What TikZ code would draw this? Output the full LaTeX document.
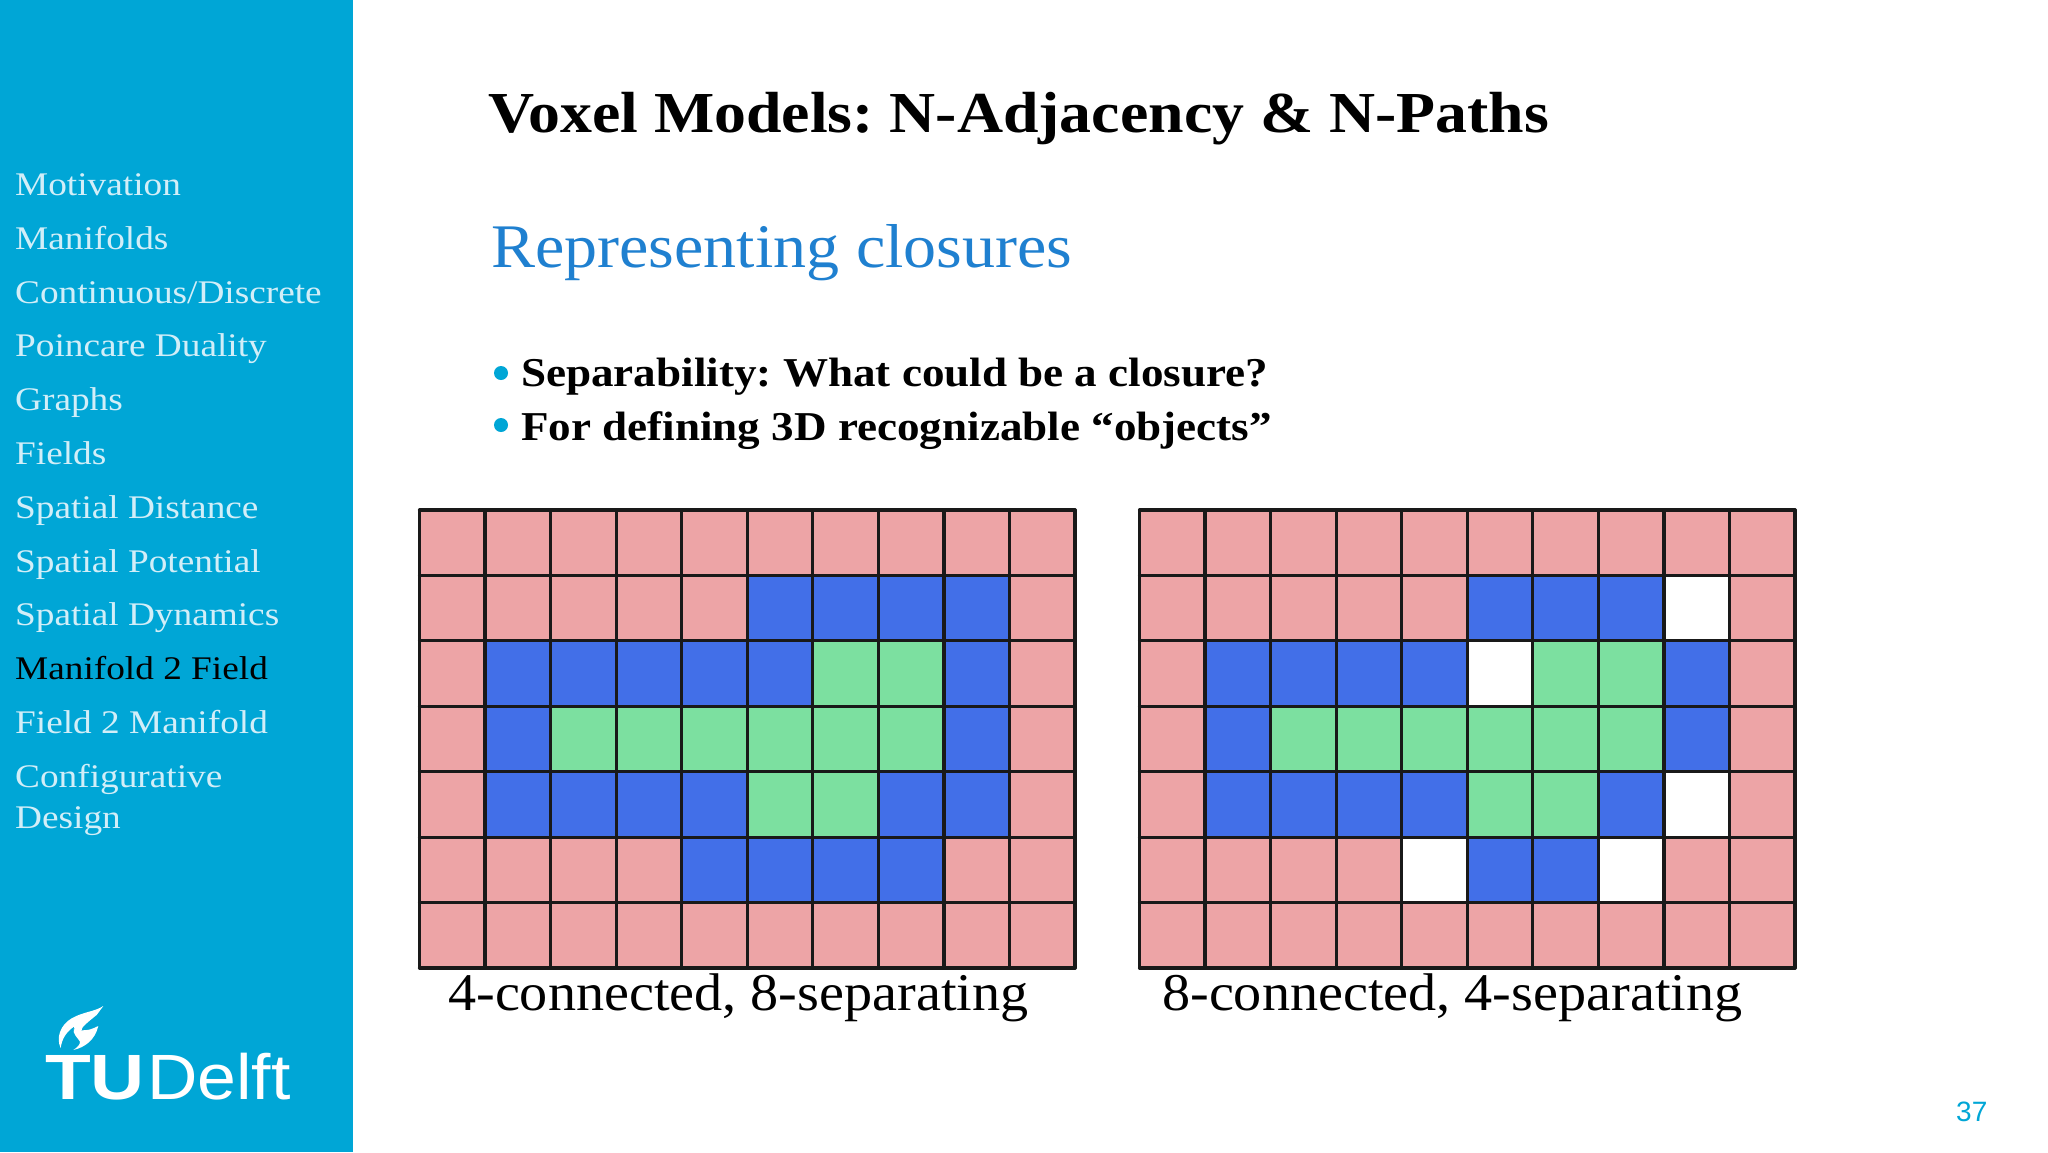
\documentclass[tikz,border=0pt]{standalone}
\usepackage{fontspec}
\setmainfont{Liberation Serif}
\setsansfont{Liberation Sans}
\frenchspacing
\newfontfamily\menufont[FakeStretch=1.13]{Liberation Serif}
\newfontfamily\capfont[FakeStretch=1.06]{Liberation Serif}
\newfontfamily\subfont[FakeStretch=1.065]{Liberation Serif}
\newfontfamily\widebold[FakeStretch=1.10]{Liberation Serif Bold}
\newfontfamily\logobold[FakeStretch=1.17]{Liberation Sans Bold}
\newfontfamily\logoreg[FakeStretch=1.09]{Liberation Sans}
\definecolor{tud}{HTML}{00A6D6}
\definecolor{subt}{HTML}{1F80D0}
\definecolor{menu}{HTML}{D2EEF8}
\definecolor{cp}{HTML}{EDA4A6}
\definecolor{cb}{HTML}{426FE8}
\definecolor{cg}{HTML}{7CE0A0}
\definecolor{cw}{HTML}{FFFFFF}
\tikzset{
  menuitem/.style={anchor=base west,inner sep=0,text=menu,font=\menufont\fontsize{33}{33}\selectfont},
  titletext/.style={anchor=base west,inner sep=0,text=black,font=\widebold\fontsize{58}{58}\selectfont},
  bullettext/.style={anchor=base west,inner sep=0,text=black,font=\widebold\fontsize{41}{41}\selectfont},
  captiontext/.style={anchor=base west,inner sep=0,text=black,font=\capfont\fontsize{53}{53}\selectfont},
  gridline/.style={draw=black!90,line width=3.2pt,line cap=round},
  bulletdot/.style={circle,fill=tud,inner sep=0,minimum size=14pt},
}
\newcommand{\gridrow}[3]{% x0, row index, string
  \foreach \c [count=\i from 0] in {#3}{
    \fill[\c] ({#1+\i*65.55},{510+#2*65.45}) rectangle ++(65.55,65.45);
  }
}
\newcommand{\gridlines}[1]{%
  \foreach \i in {0,...,10}{\draw[gridline] ({#1+\i*65.55},510) -- ({#1+\i*65.55},968);}
  \foreach \j in {0,...,7}{\draw[gridline] (#1,{510+\j*65.43}) -- ({#1+655.5},{510+\j*65.43});}
}
\begin{document}
\begin{tikzpicture}[x=1pt,y=-1pt]
\useasboundingbox (0,0) rectangle (2048,1152);
\fill[white] (0,0) rectangle (2048,1152);
\fill[tud] (0,0) rectangle (353,1152);
% sidebar menu
\node[menuitem] (m1) at (15,195) {Motivation};
\node[menuitem] (m2) at (15,249) {Manifolds};
\node[menuitem] (m3) at (15,303) {Continuous/Discrete};
\node[menuitem] (m4) at (15,356) {Poincare Duality};
\node[menuitem] (m5) at (15,410) {Graphs};
\node[menuitem] (m6) at (15,464) {Fields};
\node[menuitem] (m7) at (15,518) {Spatial Distance};
\node[menuitem] (m8) at (15,572) {Spatial Potential};
\node[menuitem] (m9) at (15,625) {Spatial Dynamics};
\node[menuitem,text=black] (m10) at (15,679) {Manifold 2 Field};
\node[menuitem] (m11) at (15,733) {Field 2 Manifold};
\node[menuitem] (m12) at (15,787) {Configurative};
\node[menuitem] (m13) at (15,828) {Design};
% logo
\begin{scope}[shift={(0,960)},x=0.3333pt,y=-0.3333pt]
\fill[white] (310,138) .. controls (285,155) and (250,155) .. (215,175)
  .. controls (180,195) and (168,235) .. (182,264)
  .. controls (186,235) and (200,215) .. (222,200)
  .. controls (222,212) and (232,222) .. (245,212)
  .. controls (240,205) and (265,185) .. (290,165) -- cycle;
\fill[white] (295,198) .. controls (280,205) and (265,212) .. (255,210)
  .. controls (240,215) and (220,210) .. (222,205)
  .. controls (215,220) and (235,235) .. (240,245)
  .. controls (240,255) and (232,262) .. (220,270)
  .. controls (255,262) and (285,240) .. (295,198) -- cycle;
\end{scope}
\node[anchor=base west,inner sep=0,text=white,font=\logobold\fontsize{64}{64}\selectfont] (tu) at (45,1099) {TU};
\node[anchor=base west,inner sep=0,text=white,font=\logoreg\fontsize{64}{64}\selectfont] (delft) at (147,1099) {Delft};
% title
\node[titletext] (title) at (488,132) {Voxel Models: N-Adjacency \& N-Paths};
\node[anchor=base west,inner sep=0,text=subt,font=\subfont\fontsize{62}{62}\selectfont] (sub) at (491,267) {Representing closures};
% bullets
\node[bulletdot] (d1) at (501,373) {};
\node[bulletdot] (d2) at (501,425) {};
\node[bullettext] (b1) at (521,386) {Separability: What could be a closure?};
\node[bullettext] (b2) at (521,440) {For defining 3D recognizable “objects”};
% left grid
\gridrow{419.5}{0}{cp,cp,cp,cp,cp,cp,cp,cp,cp,cp}
\gridrow{419.5}{1}{cp,cp,cp,cp,cp,cb,cb,cb,cb,cp}
\gridrow{419.5}{2}{cp,cb,cb,cb,cb,cb,cg,cg,cb,cp}
\gridrow{419.5}{3}{cp,cb,cg,cg,cg,cg,cg,cg,cb,cp}
\gridrow{419.5}{4}{cp,cb,cb,cb,cb,cg,cg,cb,cb,cp}
\gridrow{419.5}{5}{cp,cp,cp,cp,cb,cb,cb,cb,cp,cp}
\gridrow{419.5}{6}{cp,cp,cp,cp,cp,cp,cp,cp,cp,cp}
\gridlines{419.5}
% right grid
\gridrow{1139.5}{0}{cp,cp,cp,cp,cp,cp,cp,cp,cp,cp}
\gridrow{1139.5}{1}{cp,cp,cp,cp,cp,cb,cb,cb,cw,cp}
\gridrow{1139.5}{2}{cp,cb,cb,cb,cb,cw,cg,cg,cb,cp}
\gridrow{1139.5}{3}{cp,cb,cg,cg,cg,cg,cg,cg,cb,cp}
\gridrow{1139.5}{4}{cp,cb,cb,cb,cb,cg,cg,cb,cw,cp}
\gridrow{1139.5}{5}{cp,cp,cp,cp,cw,cb,cb,cw,cp,cp}
\gridrow{1139.5}{6}{cp,cp,cp,cp,cp,cp,cp,cp,cp,cp}
\gridlines{1139.5}
% captions
\node[captiontext] (c1) at (448,1010) {4-connected, 8-separating};
\node[captiontext] (c2) at (1162,1010) {8-connected, 4-separating};
% page number
\node[anchor=base west,inner sep=0,text=tud,font=\sffamily\fontsize{28}{28}\selectfont] (pg) at (1956,1121) {37};
\end{tikzpicture}
\end{document}
